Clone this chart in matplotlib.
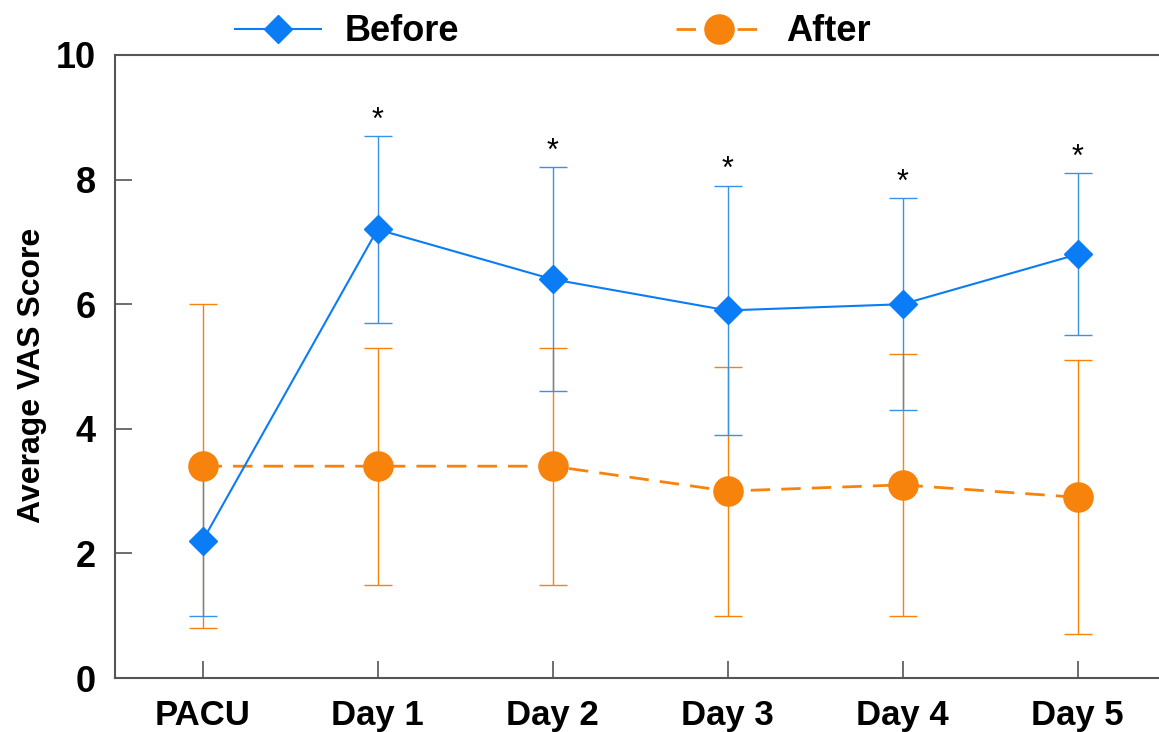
import matplotlib.pyplot as plt
import numpy as np

plt.rcParams['font.family'] = ['Liberation Sans', 'DejaVu Sans']

labels = ["PACU", "Day 1", "Day 2", "Day 3", "Day 4", "Day 5"]
before = [2.2, 7.2, 6.4, 5.9, 6.0, 6.8]
before_err = [1.2, 1.5, 1.8, 2.0, 1.7, 1.3]
after = [3.4, 3.4, 3.4, 3.0, 3.1, 2.9]
after_err = [2.6, 1.9, 1.9, 2.0, 2.1, 2.2]
signif = [False, True, True, True, True, True]

blue = '#0A7CF5'
blue_err = '#3A92E6'
orange = '#F7830C'

x = np.arange(len(labels))

fig = plt.figure(figsize=(11.59, 7.32), dpi=100)
ax = fig.add_axes([115/1159, 1-678/732, 1050/1159, 623/732])

ax.errorbar(x, after, yerr=after_err, fmt='none', ecolor=orange, elinewidth=1, capsize=10, capthick=1, zorder=2)
ax.errorbar(x, before, yerr=before_err, fmt='none', ecolor=blue_err, elinewidth=1, capsize=10, capthick=1, zorder=2)
ax.plot(x, after, color=orange, lw=2, dashes=(7, 4), marker='o', markersize=21, label='After', zorder=3)
ax.plot(x, before, color=blue, lw=1.5, marker='D', markersize=14.5, label='Before', zorder=4)

for xi, b, e, s in zip(x, before, before_err, signif):
    if s:
        ax.text(xi, b + e + 0.25, '*', ha='center', va='center', fontsize=22)

ax.set_xlim(-0.5, 5.5)
ax.set_ylim(0, 10)
ax.set_xticks(x)
ax.set_xticklabels(labels)
ax.set_yticks([0, 2, 4, 6, 8, 10])
ax.tick_params(direction='in', length=12, width=1.2, color='#555555', labelsize=26)
for t in ax.get_xticklabels() + ax.get_yticklabels():
    t.set_fontweight('bold')
ax.tick_params(axis='y', pad=14)
ax.tick_params(axis='x', pad=15, labelsize=25)
for s in ax.spines.values():
    s.set_color('#555555')
    s.set_linewidth(1.5)

ax.set_ylabel('Average VAS Score', fontsize=23, fontweight='bold', labelpad=6)
ax.yaxis.label.set_y(0.485)

h, l = ax.get_legend_handles_labels()
fig.legend(h[::-1], l[::-1], loc='upper center', bbox_to_anchor=(0.477, 1.025), ncol=2, frameon=False,
           prop={'size': 26, 'weight': 'bold'}, columnspacing=6, handlelength=2.4, handletextpad=0.65)

fig.savefig('out.png', dpi=100)
